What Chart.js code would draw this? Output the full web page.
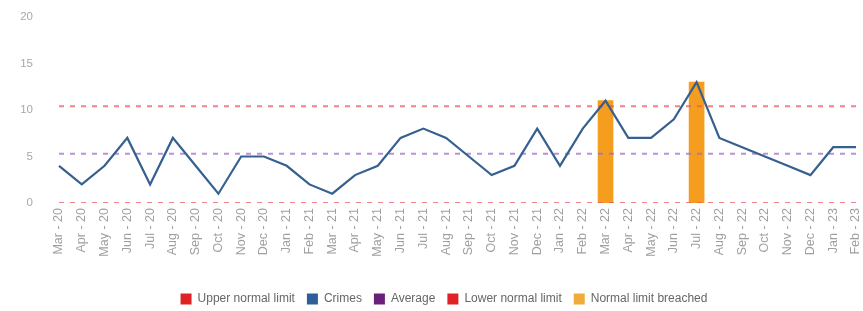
<!DOCTYPE html>
<html>
<head>
<meta charset="utf-8">
<script src="https://cdn.jsdelivr.net/npm/chart.js@4/dist/chart.umd.min.js"></script>
<style>
html,body{margin:0;padding:0;background:#fff;}
#wrap{width:863px;height:311px;position:relative;}
</style>
</head>
<body>
<div id="wrap"><canvas id="c" width="863" height="311"></canvas></div>
<script>
const months = ["Mar - 20","Apr - 20","May - 20","Jun - 20","Jul - 20","Aug - 20","Sep - 20","Oct - 20","Nov - 20","Dec - 20","Jan - 21","Feb - 21","Mar - 21","Apr - 21","May - 21","Jun - 21","Jul - 21","Aug - 21","Sep - 21","Oct - 21","Nov - 21","Dec - 21","Jan - 22","Feb - 22","Mar - 22","Apr - 22","May - 22","Jun - 22","Jul - 22","Aug - 22","Sep - 22","Oct - 22","Nov - 22","Dec - 22","Jan - 23","Feb - 23"];
const crimes = [4,2,4,7,2,7,4,1,5,5,4,2,1,3,4,7,8,7,5,3,4,8,4,8,11,7,7,9,13,7,6,5,4,3,6,6];
const upperLimit = months.map(() => 10.4);
const average = months.map(() => 5.3);
const lowerLimit = months.map(() => 0);
const breached = [null,null,null,null,null,null,null,null,null,null,null,null,null,null,null,null,null,null,null,null,null,null,null,null,11,null,null,null,13,null,null,null,null,null,null,null];
const yTicks = [0,5,10,15,20];

const legendColors = ['#e02226','#2d5f9a','#6c1f7a','#e02226','#f0ab38'];

const legendShift = {
  id:'legendShift',
  afterLayout(chart){ const l = chart.legend; if(l){ l.left += 16; l.right += 16; } }
};

new Chart(document.getElementById('c'), {
  type: 'line',
  data: {
    labels: months,
    datasets: [
      {label:'Upper normal limit', data: upperLimit, borderColor:'rgba(232,90,100,0.75)', borderDash:[5,6], borderWidth:2, pointRadius:0, order:1},
      {label:'Crimes', data: crimes, borderColor:'#35608f', borderWidth:2.2, pointRadius:0, tension:0, order:0},
      {label:'Average', data: average, borderColor:'rgba(160,110,200,0.75)', borderDash:[5,6], borderWidth:2, pointRadius:0, order:1},
      {label:'Lower normal limit', data: lowerLimit, borderColor:'rgba(232,90,100,0.75)', borderDash:[5,6], borderWidth:2, pointRadius:0, order:1},
      {type:'bar', label:'Normal limit breached', data: breached, backgroundColor:'#f49d1e', barThickness:15, order:5}
    ]
  },
  plugins:[legendShift],
  options: {
    responsive:false,
    animation:false,
    layout:{padding:{top:17,right:7,left:0,bottom:-4}},
    plugins:{
      tooltip:{enabled:false},
      legend:{
        position:'bottom',
        labels:{
          boxWidth:11, boxHeight:11, padding:12, color:'#666',
          font:{family:'Liberation Sans, Arial, sans-serif', size:12},
          generateLabels:(chart)=>chart.data.datasets.map((ds,i)=>({
            text: ds.label, fillStyle: legendColors[i], strokeStyle: legendColors[i], lineWidth:0, hidden:false, datasetIndex:i, fontColor:'#666'
          }))
        }
      }
    },
    scales:{
      x:{
        offset:false,
        grid:{display:false, drawTicks:false},
        border:{display:false},
        ticks:{color:'#a0a0a0', font:{family:'Liberation Sans, Arial, sans-serif', size:12.5}, minRotation:90, maxRotation:90, autoSkip:false, padding:5},
        afterFit:(s)=>{ s.height = 78; s.paddingLeft = 0; s.paddingRight = 0; }
      },
      y:{
        min:0, max:20,
        afterBuildTicks:(s)=>{ s.ticks = yTicks.map(v=>({value:v})); },
        grid:{display:false, drawTicks:false},
        border:{display:false},
        ticks:{color:'#a8a8a8', font:{family:'Liberation Sans, Arial, sans-serif', size:11.5}, padding:26},
        afterFit:(s)=>{ s.width = 59; s.paddingTop = 0; s.paddingBottom = 0; }
      }
    }
  }
});
</script>
</body>
</html>
